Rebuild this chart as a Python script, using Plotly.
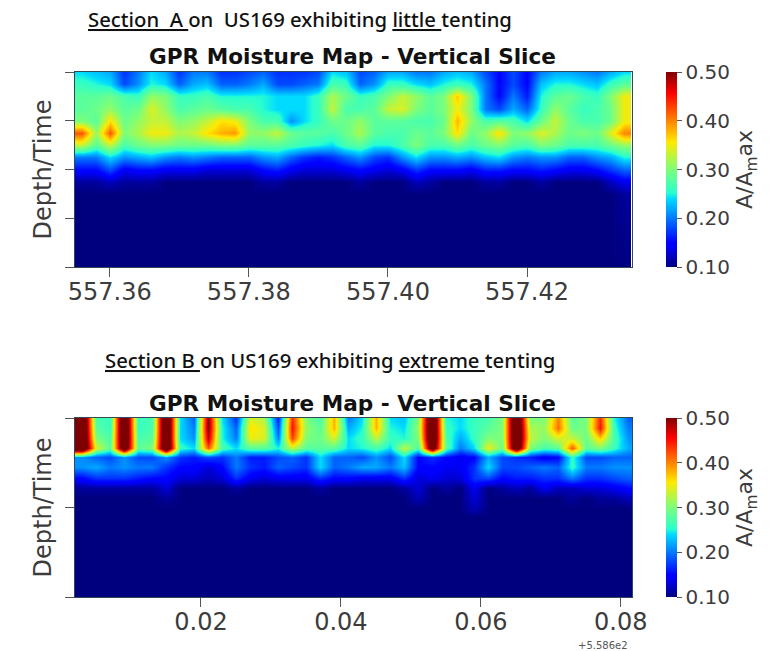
import plotly.graph_objects as go

W, H = 777, 651
RIGHT_MARGIN = 115

# ---------- Section A ----------
a_x = [557.356 + 0.002 * i for i in range(40)]
a_depth = [0, .25, .5, .75, 1, 1.25, 1.5, 1.75, 2, 2.25, 2.5, 4]
a_z = [
 [.24,.23,.22,.17,.20,.24,.22,.17,.20,.20,.17,.17,.18,.19,.17,.17,.17,.18,.24, .23,.18,.19,.22,.22,.20,.20,.22,.23,.22,.18,.15,.18,.15,.20,.22,.22,.21,.20,.22,.24],
 [.26,.25,.24,.18,.21,.25,.24,.19,.22,.23,.19,.19,.20,.22,.18,.18,.19,.20,.27, .26,.19,.21,.26,.26,.24,.23,.25,.26,.25,.20,.15,.18,.15,.23,.25,.25,.24,.23,.26,.28],
 [.28,.28,.29,.27,.26,.31,.30,.26,.26,.27,.25,.25,.25,.25,.24,.24,.24,.26,.32, .29,.26,.27,.30,.33,.31,.28,.30,.37,.30,.20,.15,.20,.16,.25,.28,.29,.27,.26,.30,.35],
 [.28,.29,.31,.28,.29,.34,.31,.27,.28,.29,.28,.27,.27,.25,.24,.24,.24,.26,.33, .27,.27,.28,.33,.34,.30,.28,.30,.35,.30,.20,.18,.22,.19,.26,.31,.28,.26,.27,.29,.35],
 [.30,.28,.36,.29,.31,.33,.33,.30,.31,.33,.36,.35,.30,.27,.27,.21,.24,.26,.29, .29,.31,.28,.28,.28,.27,.27,.29,.38,.31,.27,.28,.27,.24,.29,.33,.29,.27,.27,.29,.35],
 [.42,.31,.42,.30,.32,.35,.35,.32,.33,.36,.38,.39,.31,.31,.33,.29,.28,.28,.27, .29,.32,.28,.27,.27,.29,.28,.30,.36,.29,.31,.36,.30,.31,.34,.32,.29,.30,.29,.34,.40],
 [.33,.28,.33,.27,.29,.30,.30,.29,.29,.29,.30,.30,.28,.28,.28,.27,.26,.25,.24, .27,.28,.25,.25,.27,.30,.27,.27,.29,.27,.29,.30,.28,.27,.30,.29,.27,.27,.27,.29,.31],
 [.20,.20,.24,.21,.22,.23,.21,.20,.21,.20,.19,.19,.19,.21,.22,.19,.17,.16,.17, .19,.21,.18,.17,.21,.24,.21,.21,.22,.21,.23,.24,.21,.20,.21,.21,.19,.19,.21,.22,.25],
 [.15,.15,.18,.14,.15,.15,.14,.14,.14,.13,.13,.13,.13,.15,.16,.14,.13,.13,.13, .14,.15,.14,.13,.14,.17,.15,.15,.15,.14,.16,.16,.15,.15,.16,.15,.14,.14,.15,.17,.19],
 [.11,.11,.12,.11,.11,.11,.10,.10,.10,.10,.10,.10,.10,.11,.11,.10,.10,.10,.10, .10,.11,.10,.10,.10,.12,.11,.10,.10,.10,.11,.11,.10,.10,.11,.10,.10,.10,.10,.12,.14],
 [.10,.10,.10,.10,.10,.10,.10,.10,.10,.10,.10,.10,.10,.10,.10,.10,.10,.10,.10, .10,.10,.10,.10,.10,.10,.10,.10,.10,.10,.10,.10,.10,.10,.10,.10,.10,.10,.10,.10,.11],
 [.10,.10,.10,.10,.10,.10,.10,.10,.10,.10,.10,.10,.10,.10,.10,.10,.10,.10,.10, .10,.10,.10,.10,.10,.10,.10,.10,.10,.10,.10,.10,.10,.10,.10,.10,.10,.10,.10,.10,.10],
]
a_ticks = [557.36, 557.38, 557.40, 557.42]
a_ticktext = ["557.36", "557.38", "557.40", "557.42"]

# ---------- Section B ----------
b_x = [0.003 + 0.002 * i for i in range(40)]
b_depth = [0, .11, .22, .33, .44, .55, .67, .78, .89, 1, 1.11, 2]
b_z = [
 [.60,.27,.26,.60,.26,.27,.60,.24,.19,.50, .24,.17,.34,.32,.16,.44,.30,.27,.38,.20, .24,.38,.24,.23,.30,.60,.25,.24,.26,.27, .30,.60,.30,.30,.40,.28,.30,.44,.25,.19],
 [.60,.28,.26,.60,.26,.27,.60,.24,.20,.50, .25,.19,.36,.34,.18,.45,.31,.28,.38,.22, .25,.38,.25,.24,.31,.60,.26,.24,.26,.28, .30,.60,.32,.31,.41,.29,.30,.45,.26,.20],
 [.60,.30,.27,.60,.27,.28,.60,.24,.21,.48, .25,.20,.35,.34,.20,.43,.30,.29,.34,.24, .26,.33,.26,.25,.30,.60,.27,.22,.26,.30, .30,.60,.33,.30,.34,.33,.29,.37,.27,.21],
 [.60,.34,.28,.58,.28,.30,.60,.26,.24,.42, .27,.24,.28,.28,.25,.33,.28,.28,.28,.24, .25,.27,.24,.33,.27,.56,.28,.20,.24,.35, .29,.58,.30,.27,.28,.42,.28,.30,.26,.22],
 [.21,.19,.18,.21,.18,.18,.21,.17,.16,.18, .17,.20,.16,.16,.18,.19,.17,.24,.19,.19, .18,.21,.18,.24,.15,.17,.15,.14,.15,.22, .18,.17,.16,.14,.15,.26,.18,.18,.19,.19],
 [.21,.22,.20,.21,.20,.20,.17,.15,.15,.13, .15,.20,.17,.16,.19,.18,.17,.24,.19,.20, .22,.22,.20,.23,.15,.15,.14,.14,.17,.24, .18,.18,.19,.20,.19,.26,.20,.20,.21,.21],
 [.15,.17,.17,.17,.16,.15,.15,.13,.13,.12, .13,.17,.14,.13,.14,.14,.14,.17,.15,.15, .14,.14,.14,.17,.13,.14,.13,.13,.17,.18, .15,.16,.16,.17,.17,.20,.17,.17,.18,.19],
 [.11,.11,.11,.11,.11,.11,.13,.10,.10,.10, .10,.11,.10,.10,.10,.10,.10,.11,.10,.10, .10,.10,.10,.11,.13,.10,.11,.10,.14,.10, .11,.12,.11,.14,.12,.12,.13,.13,.14,.15],
 [.10,.10,.10,.10,.10,.10,.11,.10,.10,.10, .10,.10,.10,.10,.10,.10,.10,.10,.10,.10, .10,.10,.10,.10,.12,.10,.10,.10,.13,.10, .10,.10,.10,.10,.10,.11,.10,.11,.11,.12],
 [.10,.10,.10,.10,.10,.10,.10,.10,.10,.10, .10,.10,.10,.10,.10,.10,.10,.10,.10,.10, .10,.10,.10,.10,.10,.10,.10,.10,.12,.10, .10,.10,.10,.10,.10,.10,.10,.10,.10,.10],
 [.10,.10,.10,.10,.10,.10,.10,.10,.10,.10, .10,.10,.10,.10,.10,.10,.10,.10,.10,.10, .10,.10,.10,.10,.10,.10,.10,.10,.10,.10, .10,.10,.10,.10,.10,.10,.10,.10,.10,.10],
 [.10,.10,.10,.10,.10,.10,.10,.10,.10,.10, .10,.10,.10,.10,.10,.10,.10,.10,.10,.10, .10,.10,.10,.10,.10,.10,.10,.10,.10,.10, .10,.10,.10,.10,.10,.10,.10,.10,.10,.10],
]
b_ticks = [0.02, 0.04, 0.06, 0.08]
b_ticktext = ["0.02", "0.04", "0.06", "0.08"]

cbar_vals = [0.10, 0.20, 0.30, 0.40, 0.50]
cbar_text = ["0.10", "0.20", "0.30", "0.40", "0.50"]

jet = [[0, "rgb(0,0,127)"], [.11, "rgb(0,0,255)"], [.125, "rgb(0,0,255)"], [.35, "rgb(0,219,255)"],
       [.38, "rgb(41,255,206)"], [.5, "rgb(124,255,121)"], [.64, "rgb(255,234,0)"],
       [.89, "rgb(255,0,0)"], [1, "rgb(127,0,0)"]]

FONT = "DejaVu Sans"
INK = "#3c3c3c"
TICK = "#555555"
LINE = "#2f4a55"


def px_x(p):
    return p / (W - RIGHT_MARGIN)


def px_y(p):
    return 1 - p / H


def cbar(top, bottom):
    return dict(xref="container", yref="container", x=666 / W, xanchor="left", y=px_y(bottom), yanchor="bottom",
                lenmode="pixels", len=bottom - top, thickness=11, thicknessmode="pixels",
                xpad=0, ypad=0, outlinewidth=0, ticks="outside", ticklen=5, tickwidth=1,
                tickcolor=TICK, tickvals=cbar_vals, ticktext=cbar_text,
                tickfont=dict(family=FONT, size=20, color=INK),
                title=dict(text="A/A<sub>m</sub>ax", side="right",
                           font=dict(family=FONT, size=22, color=INK)))


fig = go.Figure()
fig.add_trace(go.Heatmap(x=a_x, y=a_depth, z=a_z, zmin=0.1, zmax=0.5, zsmooth="best",
                         colorscale=jet, colorbar=cbar(72, 267), xaxis="x", yaxis="y"))
fig.add_trace(go.Heatmap(x=b_x, y=b_depth, z=b_z, zmin=0.1, zmax=0.5, zsmooth="best",
                         colorscale=jet, colorbar=cbar(418, 597), xaxis="x2", yaxis="y2"))

xcommon = dict(ticks="outside", ticklen=9, tickwidth=1, tickcolor=TICK, showgrid=False, zeroline=False,
               showline=True, mirror=True, linecolor=LINE, linewidth=1, ticklabelstandoff=-6, automargin=False,
               tickfont=dict(family=FONT, size=24, color=INK))
ycommon = dict(ticks="outside", ticklen=9, tickwidth=1, tickcolor=TICK, showgrid=False, zeroline=False,
               showline=True, mirror=True, linecolor=LINE, linewidth=1, showticklabels=False, automargin=False)
ytitle = dict(text="Depth/Time", font=dict(family=FONT, size=24, color=INK), standoff=6)

fig.update_layout(
    width=W, height=H, autosize=False, margin=dict(l=0, r=RIGHT_MARGIN, t=0, b=0),
    paper_bgcolor="white", plot_bgcolor="white", showlegend=False,
    xaxis=dict(domain=[px_x(75), px_x(632)], anchor="y", range=[557.355, 557.4351],
               tickvals=a_ticks, ticktext=a_ticktext, **xcommon),
    yaxis=dict(domain=[px_y(267), px_y(72)], anchor="x", range=[4, 0], tickvals=[0, 1, 2, 3, 4],
               title=ytitle, **ycommon),
    xaxis2=dict(domain=[px_x(75), px_x(632)], anchor="y2", range=[0.002, 0.0816],
                tickvals=b_ticks, ticktext=b_ticktext, **xcommon),
    yaxis2=dict(domain=[px_y(597), px_y(418)], anchor="x2", range=[2, 0], tickvals=[0, 1, 2],
                title=ytitle, **ycommon),
)


def note(text, x, y, size, family, color="#111111", anchor="center", weight=None):
    font = dict(family=family, size=size, color=color)
    if weight:
        font["weight"] = weight
    fig.add_annotation(text=text, xref="paper", yref="paper", x=px_x(x), y=px_y(y), showarrow=False,
                       xanchor=anchor, yanchor="middle", font=font)


note("<u>Section  A </u>on  US169 exhibiting <u>little </u>tenting", 300, 19, 20.3, "Noto Sans", weight=500)
note("<u>Section B </u>on US169 exhibiting <u>extreme </u>tenting", 330, 360, 20.3, "Noto Sans", weight=500)
note("<b>GPR Moisture Map - Vertical Slice</b>", 353, 57, 21.6, FONT)
note("<b>GPR Moisture Map - Vertical Slice</b>", 353, 403, 21.6, FONT)
note("+5.586e2", 603, 645, 10, FONT, color="#555555")

fig.write_html("out.html", config={"displayModeBar": False}, post_script="document.body.style.margin='0';")
